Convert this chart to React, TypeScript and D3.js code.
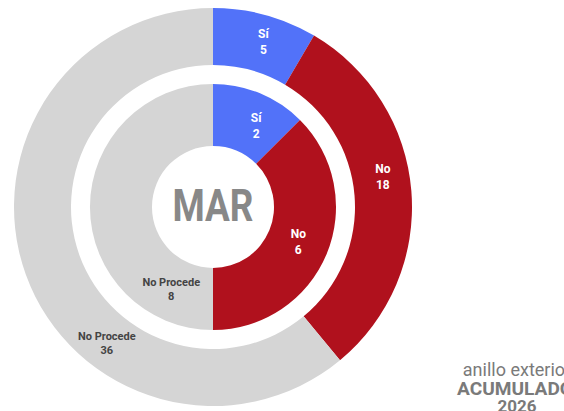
import React from "react";
import * as d3 from "d3";

const categories = ["Sí", "No", "No Procede"];
const outerValues = [5, 18, 36];
const innerValues = [2, 6, 8];
const monthLabel = "MAR";
const noteLines = ["anillo exterior", "ACUMULADO", "2026"];

const colors = ["#5272f9", "#b0111d", "#d5d5d5"];
const labelColors = ["#ffffff", "#ffffff", "#444444"];
// label placement angles (degrees, clockwise from top) — layout only
const outerLabelAngles = [17, 80, 218];
const innerLabelAngles = [28, 112, 207];

const W = 564;
const H = 411;
const cx = 213;
const cy = 207;
const outerR = [142, 199];
const innerR = [61, 123];

type Ring = { values: number[]; radii: number[]; angles: number[]; fs: number[] };

export default function App() {
  const pie = d3.pie<number>().sort(null).value((d) => d);
  const rings: Ring[] = [
    { values: outerValues, radii: outerR, angles: outerLabelAngles, fs: [12, 12, 11] },
    { values: innerValues, radii: innerR, angles: innerLabelAngles, fs: [12, 12, 11] },
  ];
  const font = "Roboto, 'Open Sans', sans-serif";
  return (
    <div style={{ position: "fixed", left: 0, top: 0, width: W, height: H, background: "#fff" }}>
      <svg width={W} height={H} style={{ display: "block" }}>
        <g transform={`translate(${cx},${cy})`}>
          {rings.map((ring, ri) => {
            const arcs = pie(ring.values);
            const arc = d3
              .arc<d3.PieArcDatum<number>>()
              .innerRadius(ring.radii[0])
              .outerRadius(ring.radii[1]);
            const midR = (ring.radii[0] + ring.radii[1]) / 2 + (ri === 0 ? 2 : 0);
            return (
              <g key={ri}>
                {arcs.map((a, i) => (
                  <path key={i} d={arc(a) || ""} fill={colors[i]} />
                ))}
                {arcs.map((a, i) => {
                  const ang = (ring.angles[i] * Math.PI) / 180;
                  const x = midR * Math.sin(ang);
                  const y = -midR * Math.cos(ang);
                  const fs = ring.fs[i];
                  const lh = i === 2 ? 14 : 16;
                  return (
                    <text
                      key={"t" + i}
                      x={x}
                      y={y}
                      textAnchor="middle"
                      fill={labelColors[i]}
                      fontFamily={font}
                      fontWeight={700}
                      fontSize={fs}
                    >
                      <tspan x={x} dy={-lh / 2 + fs * 0.35}>{categories[i]}</tspan>
                      <tspan x={x} dy={lh}>{a.data}</tspan>
                    </text>
                  );
                })}
              </g>
            );
          })}
          <text
            x={0}
            y={14}
            textAnchor="middle"
            fill="#888888"
            fontFamily={font}
            fontWeight={700}
            fontSize={44}
            textLength={81}
            lengthAdjust="spacingAndGlyphs"
          >
            {monthLabel}
          </text>
        </g>
        <g fontFamily={font} fill="#7a7a7a" textAnchor="middle">
          <text x={517} y={376} fontSize={18} fontWeight={400}>{noteLines[0]}</text>
          <text x={515} y={395} fontSize={18} fontWeight={700} textLength={116} lengthAdjust="spacingAndGlyphs">{noteLines[1]}</text>
          <text x={517} y={412} fontSize={17} fontWeight={700}>{noteLines[2]}</text>
        </g>
      </svg>
    </div>
  );
}
